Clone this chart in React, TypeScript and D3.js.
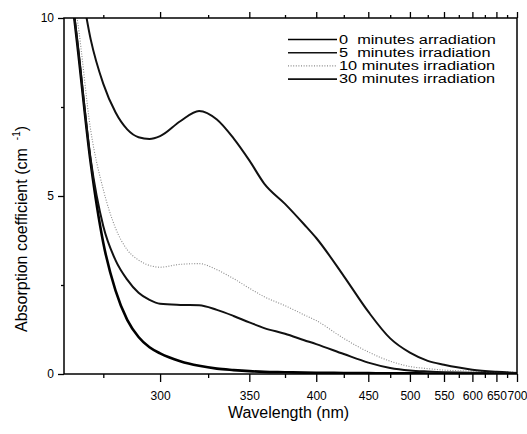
import React, { useRef, useEffect } from 'react'
import * as d3 from 'd3'

// wavelength grid (nm) the curves were read at
const wavelengths = [260, 265, 270, 275, 280, 285, 290, 295, 300, 310, 320, 330, 340, 350, 360, 375, 390, 400, 425, 450, 475, 500, 525, 550, 575, 600, 650, 700]

// absorption coefficient (cm^-1) per irradiation time
const abs0 = [12.5, 9.2, 5.93, 3.68, 2.35, 1.52, 1.04, 0.75, 0.58, 0.36, 0.23, 0.15, 0.11, 0.08, 0.06, 0.05, 0.04, 0.035, 0.03, 0.025, 0.02, 0.02, 0.015, 0.015, 0.01, 0.01, 0.01, 0.01]
const abs5 = [12.5, 9.3, 6.03, 4.15, 3.2, 2.65, 2.28, 2.08, 1.97, 1.94, 1.93, 1.8, 1.63, 1.45, 1.29, 1.13, 0.95, 0.84, 0.56, 0.32, 0.17, 0.1, 0.07, 0.05, 0.04, 0.035, 0.03, 0.03]
const abs10 = [11.8, 9.9, 6.85, 5.18, 4.1, 3.49, 3.2, 3.05, 3.0, 3.08, 3.1, 2.93, 2.68, 2.41, 2.17, 1.92, 1.66, 1.5, 1.0, 0.62, 0.36, 0.21, 0.15, 0.11, 0.09, 0.08, 0.06, 0.05]
const abs30 = [13.8, 11.5, 9.4, 8.15, 7.35, 6.87, 6.65, 6.6, 6.68, 7.1, 7.39, 7.15, 6.62, 6.0, 5.35, 4.78, 4.2, 3.82, 2.75, 1.75, 1.0, 0.6, 0.37, 0.26, 0.18, 0.12, 0.06, 0.03]

const legendLabels = ['0  minutes arradiation', '5  minutes irradiation', '10 minutes irradiation', '30 minutes irradiation']

const xTicks = [300, 350, 400, 450, 500, 550, 600, 650, 700]
const xMinorTicks = [275, 325, 375, 425, 475, 525, 575, 625, 675]
const yTicks = [0, 5, 10]
const yMinorTicks = [2.5, 7.5]

const FONT = '"Liberation Sans", Arial, Helvetica, sans-serif'

const App = () => {
  const svgRef = useRef(null)
  const width = 527
  const height = 434
  const left = 64, right = 517, top = 18, bottom = 374

  useEffect(() => {
    // reciprocal wavelength axis (energy-like spacing)
    const x = d3.scalePow().exponent(-1).domain([260, 700]).range([left, right])
    const y = d3.scaleLinear().domain([0, 10]).range([bottom, top])

    const svg = d3.select(svgRef.current)
    svg.selectAll('*').remove()

    svg.append('defs').append('clipPath').attr('id', 'plot-clip')
      .append('rect').attr('x', left).attr('y', top).attr('width', right - left).attr('height', bottom - top)

    const series = [
      { name: legendLabels[0], values: abs0, color: '#000', width: 2.6, dash: null },
      { name: legendLabels[1], values: abs5, color: '#111', width: 2, dash: null },
      { name: legendLabels[2], values: abs10, color: '#8a8a8a', width: 1.1, dash: '1,1.6' },
      { name: legendLabels[3], values: abs30, color: '#111', width: 2, dash: null }
    ]

    const line = d3.line()
      .x(d => x(d[0]))
      .y(d => y(d[1]))
      .curve(d3.curveMonotoneX)

    const plot = svg.append('g').attr('clip-path', 'url(#plot-clip)')
    series.forEach(s => {
      plot.append('path')
        .attr('fill', 'none')
        .attr('stroke', s.color)
        .attr('stroke-width', s.width)
        .attr('stroke-dasharray', s.dash)
        .attr('stroke-linejoin', 'round')
        .attr('d', line(wavelengths.map((w, i) => [w, s.values[i]])))
    })

    const styleAxis = g => {
      g.select('.domain').remove()
      g.selectAll('line').attr('stroke', '#000').attr('stroke-width', 1.3)
      g.selectAll('text').attr('fill', '#000').attr('font-size', 12).attr('font-family', FONT)
    }

    // bottom
    svg.append('g').attr('transform', `translate(0,${bottom})`)
      .call(d3.axisBottom(x).tickValues(xTicks).tickFormat(d3.format('d')).tickSize(8).tickPadding(9))
      .call(styleAxis)
    svg.append('g').attr('transform', `translate(0,${bottom})`)
      .call(d3.axisBottom(x).tickValues(xMinorTicks).tickFormat(() => '').tickSize(4))
      .call(styleAxis)
    // top
    svg.append('g').attr('transform', `translate(0,${top})`)
      .call(d3.axisTop(x).tickValues(xTicks).tickFormat(() => '').tickSize(6))
      .call(styleAxis)
    svg.append('g').attr('transform', `translate(0,${top})`)
      .call(d3.axisTop(x).tickValues(xMinorTicks).tickFormat(() => '').tickSize(3))
      .call(styleAxis)
    // left
    svg.append('g').attr('transform', `translate(${left},0)`)
      .call(d3.axisLeft(y).tickValues(yTicks).tickFormat(d3.format('d')).tickSize(6).tickPadding(4))
      .call(styleAxis)
    svg.append('g').attr('transform', `translate(${left},0)`)
      .call(d3.axisLeft(y).tickValues(yMinorTicks).tickFormat(() => '').tickSize(3))
      .call(styleAxis)

    // frame
    svg.append('rect')
      .attr('x', left).attr('y', top).attr('width', right - left).attr('height', bottom - top)
      .attr('fill', 'none').attr('stroke', '#000').attr('stroke-width', 1.5)

    // x title
    svg.append('text')
      .attr('x', (left + right) / 2 - 2).attr('y', 418)
      .attr('text-anchor', 'middle')
      .attr('font-family', FONT).attr('font-size', 16)
      .text('Wavelength (nm)')

    // y title with superscript
    const yt = svg.append('text')
      .attr('transform', `translate(27,${332}) rotate(-90)`)
      .attr('font-family', FONT).attr('font-size', 16)
    yt.append('tspan').text('Absorption coefficient (cm')
    yt.append('tspan').attr('dx', 8).attr('dy', -7).attr('font-size', 10).text('-1')
    yt.append('tspan').attr('dy', 7).text(')')

    // legend
    const lg = svg.append('g')
    series.forEach((s, i) => {
      const ly = 39.5 + i * 13.2
      lg.append('line')
        .attr('x1', 288).attr('x2', 337).attr('y1', ly).attr('y2', ly)
        .attr('stroke', s.color).attr('stroke-width', s.dash ? 1.1 : 1.6)
        .attr('stroke-dasharray', s.dash)
      const t = lg.append('text')
        .attr('x', 339).attr('y', ly)
        .attr('dominant-baseline', 'central')
        .attr('font-family', FONT).attr('font-size', 12)
        .style('white-space', 'pre')
        .text(s.name)
      // scanned legend type is wider than it is tall
      const natural = t.node().getComputedTextLength()
      t.attr('textLength', natural * 1.36).attr('lengthAdjust', 'spacingAndGlyphs')
    })
  }, [])

  return (
    <svg
      ref={svgRef}
      width={width}
      height={height}
      style={{ position: 'absolute', left: 0, top: 0, background: '#fff' }}
    />
  )
}

export default App
